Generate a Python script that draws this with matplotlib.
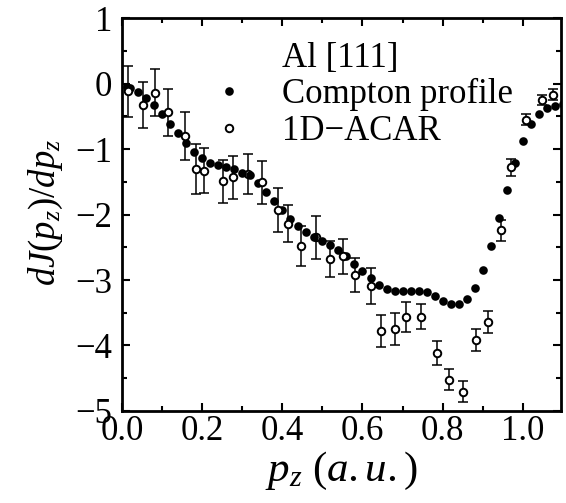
import matplotlib

matplotlib.use("Agg")
import matplotlib.pyplot as plt
import numpy as np
from matplotlib.lines import Line2D
from matplotlib.ticker import MultipleLocator

# Compton profile derivative (filled circles)
compton_pz = [
    0.012, 0.02, 0.04, 0.06, 0.08, 0.10, 0.12, 0.14, 0.16, 0.18,
    0.20, 0.22, 0.24, 0.26, 0.28, 0.30, 0.32, 0.34, 0.36, 0.38,
    0.40, 0.42, 0.44, 0.46, 0.48, 0.50, 0.52, 0.54, 0.56, 0.58,
    0.60, 0.62, 0.64, 0.66, 0.68, 0.70, 0.72, 0.74, 0.76, 0.78,
    0.80, 0.82, 0.84, 0.86, 0.88, 0.90, 0.92, 0.94, 0.96, 0.98,
    1.00, 1.02, 1.04, 1.06, 1.08, 1.10,
]
compton_val = [
    -0.05, -0.06, -0.125, -0.22, -0.33, -0.47, -0.61, -0.76, -0.91, -1.04,
    -1.14, -1.22, -1.25, -1.28, -1.31, -1.36, -1.40, -1.52, -1.65, -1.79,
    -1.93, -2.07, -2.17, -2.26, -2.34, -2.40, -2.46, -2.54, -2.64, -2.75,
    -2.87, -2.97, -3.08, -3.14, -3.17, -3.17, -3.17, -3.17, -3.19, -3.24,
    -3.32, -3.37, -3.37, -3.29, -3.12, -2.85, -2.48, -2.06, -1.63, -1.22,
    -0.88, -0.62, -0.47, -0.38, -0.34, -0.31,
]

# 1D-ACAR derivative (open circles) with error bars
acar_pz = [
    0.016, 0.052, 0.083, 0.116, 0.158, 0.184, 0.205, 0.253, 0.278, 0.315,
    0.350, 0.390, 0.415, 0.446, 0.484, 0.519, 0.552, 0.581, 0.621, 0.646,
    0.682, 0.709, 0.745, 0.787, 0.816, 0.851, 0.883, 0.914, 0.945, 0.970,
    1.008, 1.047, 1.075,
]
acar_val = [
    -0.115, -0.33, -0.14, -0.44, -0.80, -1.30, -1.33, -1.49, -1.43, -1.38,
    -1.51, -1.93, -2.14, -2.48, -2.35, -2.68, -2.64, -2.92, -3.09, -3.78,
    -3.75, -3.56, -3.56, -4.11, -4.52, -4.71, -3.92, -3.64, -2.24, -1.28,
    -0.55, -0.25, -0.17,
]
acar_err = [
    0.39, 0.35, 0.36, 0.355, 0.36, 0.38, 0.345, 0.33, 0.33, 0.30,
    0.33, 0.34, 0.28, 0.30, 0.33, 0.27, 0.27, 0.26, 0.275, 0.25,
    0.245, 0.23, 0.19, 0.185, 0.165, 0.16, 0.165, 0.165, 0.16, 0.135,
    0.09, 0.07, 0.08,
]
# points whose open marker sits under the Compton dots
acar_hidden = [
    False, False, False, False, False, False, False, False, False, True,
    False, False, False, False, True, False, False, False, False, False,
    False, False, False, False, False, False, False, False, False, False,
    False, False, False,
]

legend_labels = ["Al [111]", "Compton profile", "1D\u2212ACAR"]

plt.rcParams["font.family"] = ["Liberation Serif", "DejaVu Serif"]
plt.rcParams["mathtext.fontset"] = "custom"
plt.rcParams["mathtext.rm"] = "Liberation Serif"
plt.rcParams["mathtext.it"] = "Liberation Serif:italic"

fig = plt.figure(figsize=(5.66, 5.03), dpi=100)
ax = fig.add_axes([0.2155, 0.183, 0.7755, 0.781])

acar_pz = np.array(acar_pz)
acar_val = np.array(acar_val)
hidden = np.array(acar_hidden)

FILLED = dict(ms=6.2, color="black", mew=0)
OPEN = dict(ms=5.4, mfc="white", mec="black", mew=1.4)

ax.errorbar(
    acar_pz, acar_val, yerr=acar_err, fmt="none", ecolor="black",
    elinewidth=1.1, capsize=3.8, capthick=1.1, zorder=1,
)
ax.plot(acar_pz[hidden], acar_val[hidden], "o", zorder=1.5, **OPEN)
ax.plot(compton_pz, compton_val, "o", zorder=2, **FILLED)
ax.plot(acar_pz[~hidden], acar_val[~hidden], "o", zorder=3, **OPEN)

ax.set_xlim(0, 1.095)
ax.set_ylim(-5, 1)
ax.xaxis.set_major_locator(MultipleLocator(0.2))
ax.xaxis.set_minor_locator(MultipleLocator(0.1))
ax.yaxis.set_major_locator(MultipleLocator(1))
ax.yaxis.set_minor_locator(MultipleLocator(0.5))
ax.xaxis.set_major_formatter(plt.FuncFormatter(lambda v, p: f"{v:.1f}"))

ax.tick_params(which="both", direction="in", top=True, right=True,
               labelsize=25, width=1.5, color="black")
ax.tick_params(axis="x", which="major", length=6, pad=3)
ax.tick_params(axis="y", which="major", length=6, pad=7)
ax.tick_params(which="minor", length=3.5)
for s in ax.spines.values():
    s.set_linewidth(2.0)

ax.set_xlabel(r"$p_z\ (a.u.)$", fontsize=31)
ax.xaxis.set_label_coords(0.5, -0.1)
ax.set_ylabel(r"$dJ(p_z)/dp_z$", fontsize=26.5)
ax.yaxis.set_label_coords(-0.13, 0.505)

handles = [
    Line2D([], [], linestyle="none", marker=""),
    Line2D([], [], linestyle="none", marker="o", **FILLED),
    Line2D([], [], linestyle="none", marker="o", **OPEN),
]
ax.legend(
    handles, legend_labels, loc="upper left", bbox_to_anchor=(0.165, 0.94),
    frameon=False, fontsize=25, handlelength=2.0, handletextpad=0.51,
    labelspacing=0.1, borderpad=0, borderaxespad=0, numpoints=1,
)

fig.savefig("out.png", dpi=100)
